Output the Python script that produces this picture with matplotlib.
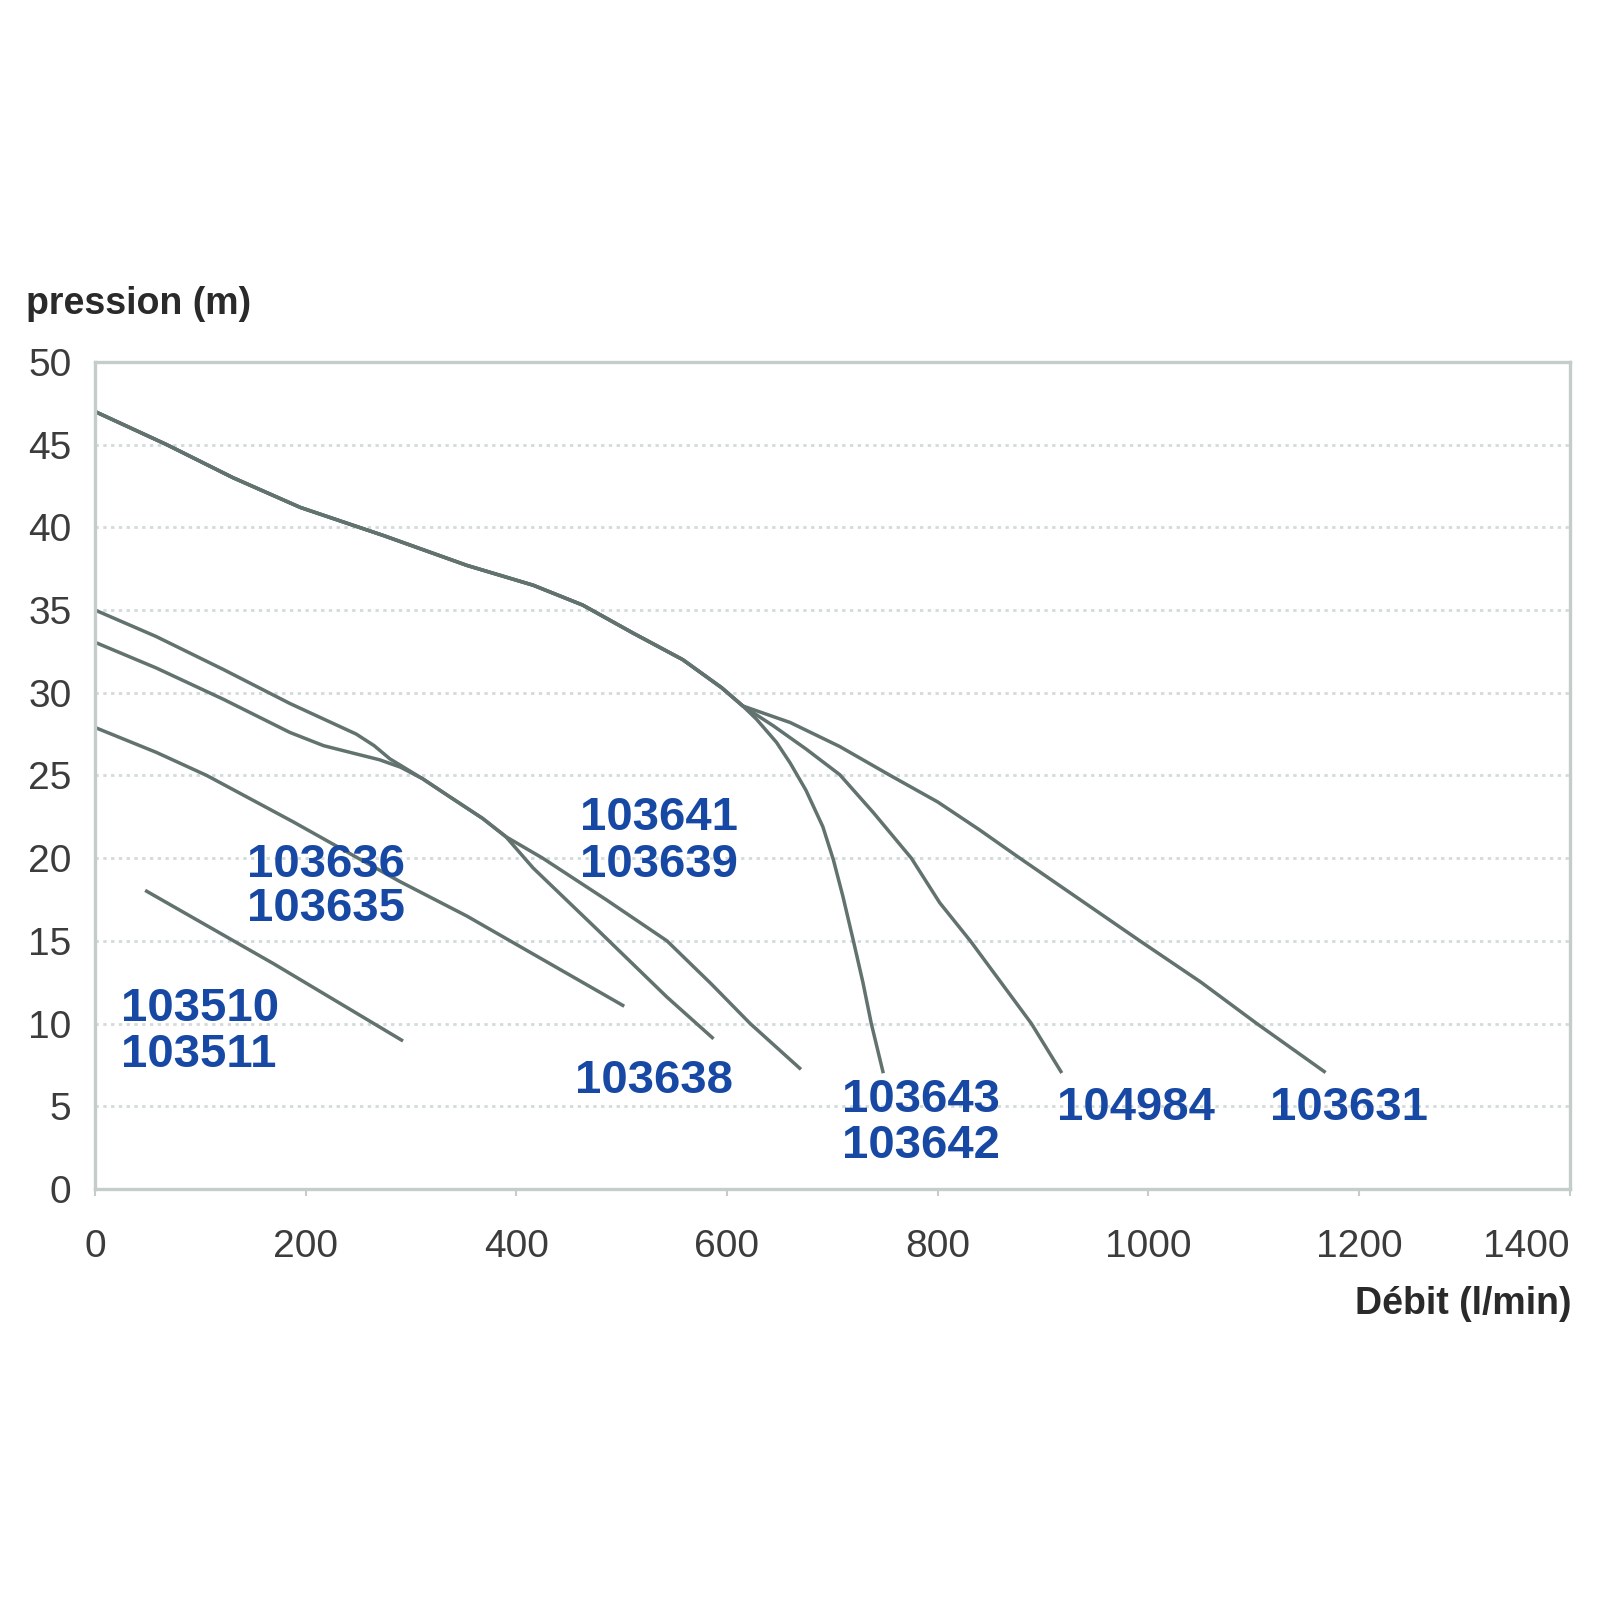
import matplotlib.pyplot as plt

# Débit (l/min) / pression (m)
x_103510 = [49, 170, 291]
y_103510 = [18.0, 13.6, 9.0]

x_103636 = [0, 58, 106, 188, 289, 353, 416, 501]
y_103636 = [27.9, 26.4, 25.0, 22.2, 18.6, 16.5, 14.2, 11.1]

x_103638 = [0, 58, 122, 185, 217, 248, 270, 290, 311, 337, 368, 390, 416, 479, 543, 586]
y_103638 = [33.05, 31.5, 29.6, 27.6, 26.8, 26.3, 25.95, 25.5, 24.8, 23.7, 22.4, 21.3, 19.4, 15.55, 11.6, 9.15]

x_103641 = [0, 58, 122, 185, 248, 265, 280, 311, 337, 368, 390, 425, 485, 543, 585, 622, 669]
y_103641 = [35.0, 33.4, 31.4, 29.35, 27.5, 26.8, 26.0, 24.8, 23.7, 22.4, 21.3, 20.0, 17.5, 15.0, 12.4, 10.0, 7.3]

x_top = [0, 68, 131, 195, 274, 353, 416, 463, 511, 558, 595, 615]
y_top = [47.0, 45.0, 43.0, 41.2, 39.5, 37.7, 36.5, 35.3, 33.6, 32.0, 30.3, 29.2]

x_103643 = x_top + [628, 647, 660, 675, 691, 701, 710, 720, 729, 737, 748]
y_103643 = y_top + [28.4, 27.0, 25.75, 24.1, 21.9, 19.9, 17.7, 15.0, 12.5, 10.0, 7.1]

x_104984 = x_top + [644, 675, 707, 739, 775, 802, 831, 860, 889, 917]
y_104984 = y_top + [28.0, 26.6, 25.05, 22.75, 20.0, 17.3, 15.0, 12.5, 10.0, 7.1]

x_103631 = x_top + [660, 707, 755, 800, 840, 878, 935, 992, 1050, 1103, 1167]
y_103631 = y_top + [28.2, 26.75, 25.0, 23.4, 21.7, 20.0, 17.5, 15.0, 12.5, 10.0, 7.1]

curves = [(x_103510, y_103510), (x_103636, y_103636), (x_103638, y_103638),
          (x_103641, y_103641), (x_103643, y_103643), (x_104984, y_104984),
          (x_103631, y_103631)]

labels = ["103641", "103639", "103636", "103635", "103510", "103511",
          "103638", "103643", "103642", "104984", "103631"]
label_pos = [(460, 22.4), (460, 19.6), (144, 19.6), (144, 16.9), (25, 10.9), (25, 8.1),
             (456, 6.5), (709, 5.4), (709, 2.6), (913, 4.9), (1116, 4.9)]

xticks = [0, 200, 400, 600, 800, 1000, 1200, 1400]
yticks = [0, 5, 10, 15, 20, 25, 30, 35, 40, 45, 50]

plt.rcParams['font.family'] = ['Liberation Sans', 'DejaVu Sans']

fig = plt.figure(figsize=(16, 16), dpi=100)
fig.patch.set_facecolor('white')
ax = fig.add_axes([0.0594, 0.2569, 0.9216, 0.5169])

for xs, ys in curves:
    ax.plot(xs, ys, color='#62726e', linewidth=2.5, solid_joinstyle='round')

for txt, (lx, ly) in zip(labels, label_pos):
    ax.text(lx, ly, txt, color='#1748a3', fontsize=34, fontweight='bold',
            ha='left', va='center')

ax.set_xlim(0, 1400)
ax.set_ylim(0, 50)
ax.set_xticks(xticks)
ax.set_yticks(yticks)
ax.tick_params(axis='both', labelsize=28, labelcolor='#3c3c3c', color='#c4cccc')
ax.tick_params(axis='x', length=5, width=1.5, pad=24)
ax.tick_params(axis='y', length=0, pad=17)
ax.get_xticklabels()[-1].set_horizontalalignment('right')

for s in ax.spines.values():
    s.set_color('#c4cccc')
    s.set_linewidth(2.4)

ax.yaxis.grid(True, linestyle=(0, (1.2, 1.6)), color='#d2dada', linewidth=2)
ax.set_axisbelow(True)

fig.text(0.016, 0.810, "pression (m)", fontsize=27, fontweight='bold',
         color='#2a2a2a', ha='left', va='center')
fig.text(0.982, 0.185, "Débit (l/min)", fontsize=27, fontweight='bold',
         color='#2a2a2a', ha='right', va='center')

fig.savefig("out.png", dpi=100, facecolor='white')
